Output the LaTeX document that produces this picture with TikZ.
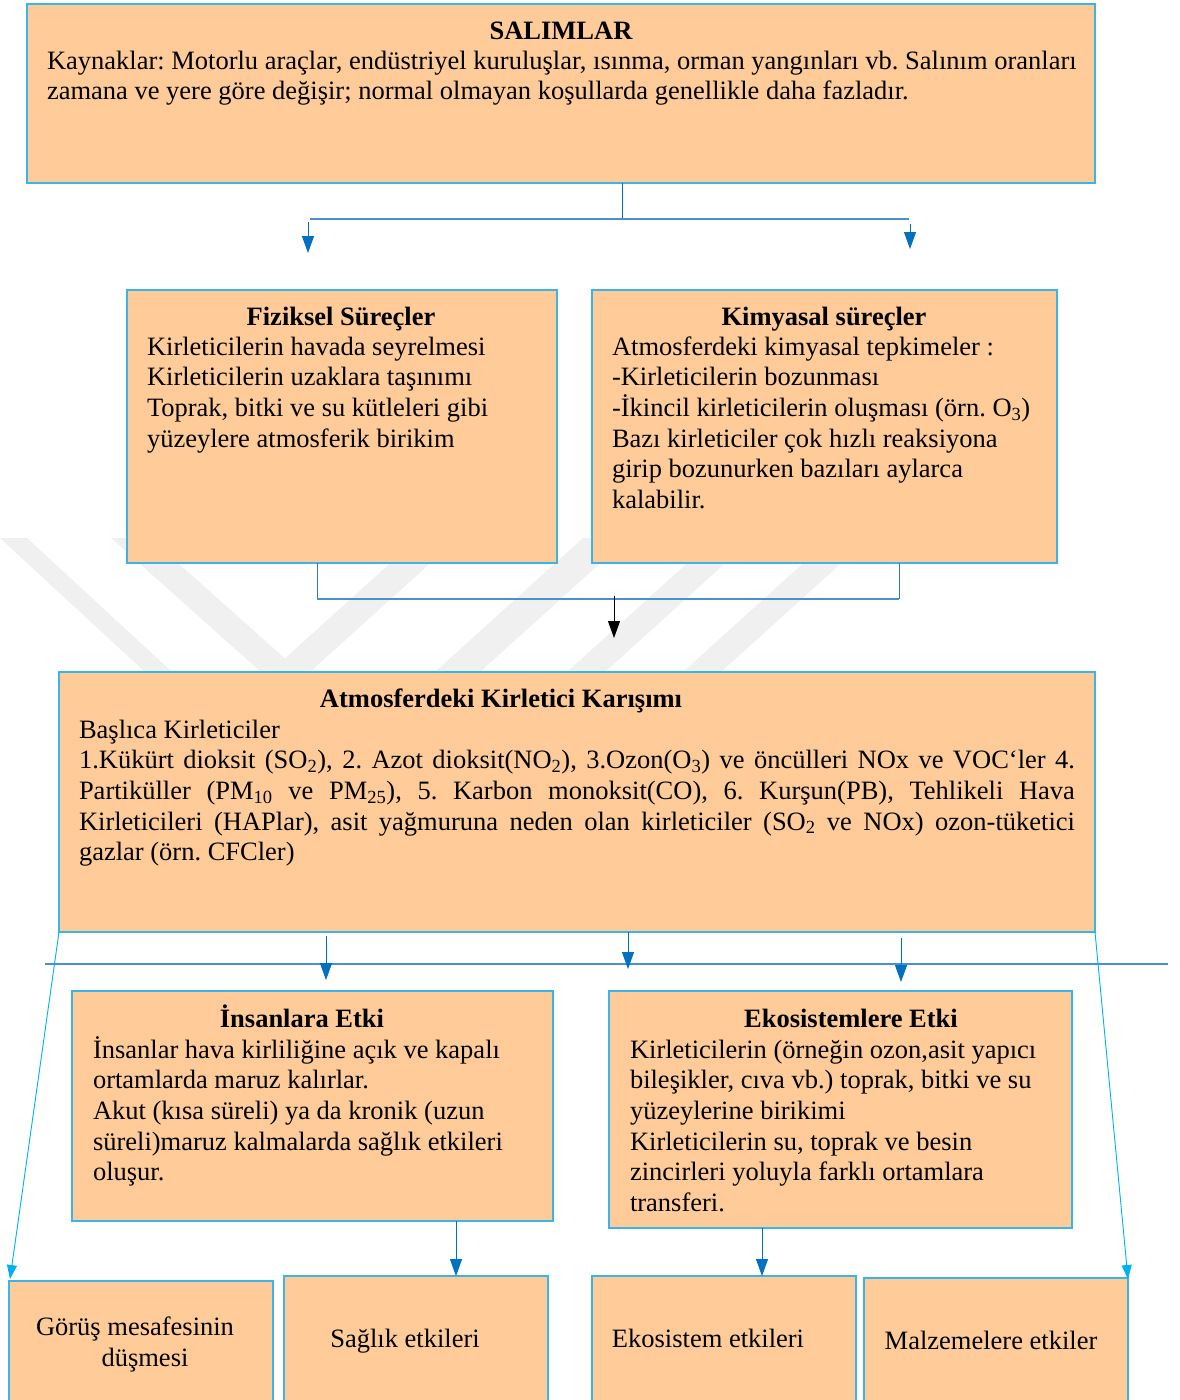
\documentclass[tikz,border=0pt]{standalone}
\usepackage{fontspec}
\setmainfont{Liberation Serif}
\usetikzlibrary{arrows.meta}
\frenchspacing
\definecolor{boxfill}{HTML}{FFCC99}
\definecolor{boxline}{HTML}{3DB4E8}
\definecolor{lineblue}{HTML}{4A8FD0}
\definecolor{thinblue}{HTML}{2E7BC4}
\definecolor{arrblue}{HTML}{0070C0}
\definecolor{cyanline}{HTML}{00B0F0}
\definecolor{wm}{HTML}{F0F0F0}
\begin{document}
\begin{tikzpicture}[x=1pt,y=-1pt,
  box/.style={draw=boxline, fill=boxfill, line width=1.3pt, inner sep=0pt, outer sep=0pt, anchor=north west},
  txt/.style={inner sep=0pt, outer sep=0pt, anchor=north west, align=left, font=\fontsize{26.5}{30.7}\selectfont},
  ttl/.style={inner sep=0pt, outer sep=0pt, anchor=base, font=\fontsize{26.5}{30.7}\selectfont\bfseries},
  lbl/.style={inner sep=0pt, outer sep=0pt, anchor=base, font=\fontsize{26.5}{30.7}\selectfont},
  bus/.style={draw=lineblue, line width=1.8pt},
  thinln/.style={draw=thinblue, line width=0.9pt},
  barrow/.style={draw=arrblue, line width=1pt, -{Triangle[length=17pt,width=12pt]}},
  karrow/.style={draw=black, line width=1pt, -{Triangle[length=17pt,width=12pt]}},
  carrow/.style={draw=cyanline, line width=0.9pt, -{Triangle[length=14pt,width=10pt]}}
]
\useasboundingbox (0,0) rectangle (1179,1400);
\clip (0,0) rectangle (1179,1400);
\fill[white] (0,0) rectangle (1179,1400);

% watermark
\fill[wm] (0,538) -- (27,538) -- (172,672) -- (145,672) -- cycle;
\fill[wm] (111,538) -- (150,538) -- (300,672) -- (261,672) -- cycle;
\fill[wm] (270,672) -- (310,672) -- (458,538) -- (418,538) -- cycle;
\fill[wm] (435,672) -- (480,672) -- (628,538) -- (583,538) -- cycle;
\fill[wm] (567,672) -- (605,672) -- (753,538) -- (715,538) -- cycle;
\fill[wm] (683,672) -- (721,672) -- (869,538) -- (831,538) -- cycle;

% boxes
\node[box, minimum width=1068pt, minimum height=179pt] (sal) at (27,4) {};
\node[box, minimum width=430pt, minimum height=273pt] (fiz) at (127,290) {};
\node[box, minimum width=465pt, minimum height=273pt] (kim) at (592,290) {};
\node[box, minimum width=1036pt, minimum height=260pt] (atm) at (59,672) {};
\node[box, minimum width=481pt, minimum height=230pt] (ins) at (72,991) {};
\node[box, minimum width=463pt, minimum height=237pt] (eko) at (609,991) {};
\node[box, minimum width=264pt, minimum height=140pt] (gor) at (9,1281) {};
\node[box, minimum width=264pt, minimum height=140pt] (sag) at (284,1276) {};
\node[box, minimum width=264pt, minimum height=140pt] (ekt) at (592,1276) {};
\node[box, minimum width=264pt, minimum height=140pt] (mal) at (864,1278) {};

% texts
\node[ttl] (salT) at (561,39) {SALIMLAR};
\node[txt] (salB) at (47,45) {\rule{0pt}{24pt}Kaynaklar: Motorlu araçlar, endüstriyel kuruluşlar, ısınma, orman yangınları vb. Salınım oranları\\
zamana ve yere göre değişir; normal olmayan koşullarda genellikle daha fazladır.};

\node[ttl] (fizT) at (341,325) {Fiziksel Süreçler};
\node[txt] (fizB) at (147,331) {\rule{0pt}{24pt}Kirleticilerin havada seyrelmesi\\
Kirleticilerin uzaklara taşınımı\\
Toprak, bitki ve su kütleleri gibi\\
yüzeylere atmosferik birikim};

\node[ttl] (kimT) at (824,325) {Kimyasal süreçler};
\node[txt] (kimB) at (612,331) {\rule{0pt}{24pt}Atmosferdeki kimyasal tepkimeler :\\
-Kirleticilerin bozunması\\
-İkincil kirleticilerin oluşması (örn. O\textsubscript{3})\\
Bazı kirleticiler çok hızlı reaksiyona\\
girip bozunurken bazıları aylarca\\
kalabilir.};

\node[ttl] (atmT) at (501,707) {Atmosferdeki Kirletici Karışımı};
\node[txt] (atmB) at (79,714) {\rule{0pt}{24pt}Başlıca Kirleticiler\\
\makebox[996pt][s]{1.Kükürt dioksit (SO\textsubscript{2}), 2. Azot dioksit(NO\textsubscript{2}), 3.Ozon(O\textsubscript{3}) ve öncülleri NOx ve VOC‘ler 4.}\\
\makebox[996pt][s]{Partiküller (PM\textsubscript{10} ve PM\textsubscript{25}), 5. Karbon monoksit(CO), 6. Kurşun(PB), Tehlikeli Hava}\\
\makebox[996pt][s]{Kirleticileri (HAPlar), asit yağmuruna neden olan kirleticiler (SO\textsubscript{2} ve NOx) ozon-tüketici}\\
gazlar (örn. CFCler)};

\node[ttl] (insT) at (302,1027) {İnsanlara Etki};
\node[txt] (insB) at (93,1034) {\rule{0pt}{24pt}İnsanlar hava kirliliğine açık ve kapalı\\
ortamlarda maruz kalırlar.\\
Akut (kısa süreli) ya da kronik (uzun\\
süreli)maruz kalmalarda sağlık etkileri\\
oluşur.};

\node[ttl] (ekoT) at (851,1027) {Ekosistemlere Etki};
\node[txt] (ekoB) at (630,1034) {\rule{0pt}{24pt}Kirleticilerin (örneğin ozon,asit yapıcı\\
bileşikler, cıva vb.) toprak, bitki ve su\\
yüzeylerine birikimi\\
Kirleticilerin su, toprak ve besin\\
zincirleri yoluyla farklı ortamlara\\
transferi.};

\node[lbl] (gorT1) at (135,1335) {Görüş mesafesinin};
\node[lbl] (gorT2) at (145,1366) {düşmesi};
\node[lbl] (sagT) at (405,1347) {Sağlık etkileri};
\node[lbl] (ektT) at (708,1347) {Ekosistem etkileri};
\node[lbl] (malT) at (991,1349) {Malzemelere etkiler};

% connectors: SALIMLAR -> processes
\coordinate (j1) at (622,219);
\coordinate (b1l) at (310,219);
\coordinate (b1r) at (909,219);
\draw[thinln, draw=arrblue] (sal.south -| j1) -- (j1);
\draw[bus] (b1l) -- (b1r);
\coordinate (a1s) at (308,222); \coordinate (a1e) at (308,253);
\coordinate (a2s) at (910,224); \coordinate (a2e) at (910,249);
\draw[barrow] (a1s) -- (a1e);
\draw[barrow] (a2s) -- (a2e);

% processes -> mixture
\coordinate (c1) at (317,599);
\coordinate (c2) at (899,599);
\draw[thinln] (fiz.south -| c1) -- (c1);
\draw[thinln] (kim.south -| c2) -- (c2);
\draw[bus] (c1) -- (c2);
\coordinate (k1s) at (614,596); \coordinate (k1e) at (614,638);
\draw[karrow] (k1s) -- (k1e);

% mixture -> effects
\coordinate (h1) at (45,964);
\coordinate (h2) at (1168,964);
\draw[draw=lineblue, line width=1.4pt] (h1) -- (h2);
\coordinate (m1s) at (326,936); \coordinate (m1e) at (326,980);
\coordinate (m2) at (628,969);
\coordinate (m3s) at (901,938); \coordinate (m3e) at (901,982);
\draw[barrow] (m1s) -- (m1e);
\draw[barrow] (atm.south -| m2) -- (m2);
\draw[barrow] (m3s) -- (m3e);

% side arrows
\coordinate (l1) at (10,1279);
\coordinate (r1) at (1128,1279);
\draw[carrow] (atm.south west) -- (l1);
\draw[carrow] (atm.south east) -- (r1);

% effects -> bottom boxes
\coordinate (s1) at (456,1250);
\coordinate (s2) at (762,1250);
\draw[barrow] (ins.south -| s1) -- (sag.north -| s1);
\draw[barrow] (eko.south -| s2) -- (ekt.north -| s2);
\end{tikzpicture}
\end{document}
